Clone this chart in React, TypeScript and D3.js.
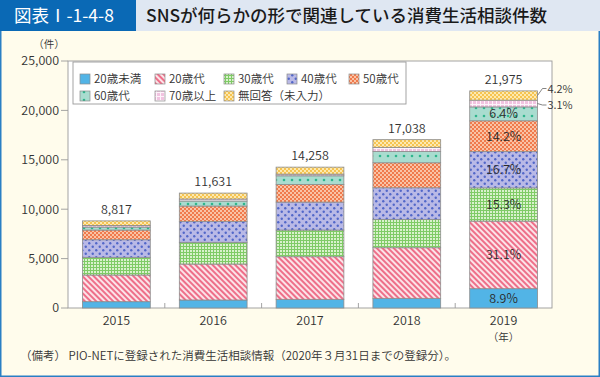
import React from "react";
import * as d3 from "d3";

const years = ["2015", "2016", "2017", "2018", "2019"];
const totals = [8817, 11631, 14258, 17038, 21975];
const seriesNames = ["20歳未満", "20歳代", "30歳代", "40歳代", "50歳代", "60歳代", "70歳以上", "無回答（未入力）"];
const under20 = [640, 810, 880, 980, 1956];
const age20s = [2700, 3640, 4310, 5120, 6840];
const age30s = [1790, 2200, 2700, 2870, 3362];
const age40s = [1780, 2120, 2830, 3200, 3670];
const age50s = [980, 1550, 1790, 2530, 3120];
const age60s = [300, 510, 870, 1150, 1406];
const age70plus = [170, 200, 170, 410, 681];
const noAnswer = [457, 601, 708, 778, 940];
const pct2019 = ["8.9%", "31.1%", "15.3%", "16.7%", "14.2%", "6.4%", "3.1%", "4.2%"];
const yTicks = [0, 5000, 10000, 15000, 20000, 25000];

const seriesValues = [under20, age20s, age30s, age40s, age50s, age60s, age70plus, noAnswer];
const fills = ["#52b4e6", "url(#pPink)", "url(#pGreen)", "url(#pPurple)", "url(#pOrange)", "url(#pTeal)", "url(#pLpink)", "url(#pYellow)"];

const FONT = "'Noto Sans CJK JP', 'Noto Sans', sans-serif";

export default function App() {
  const W = 600, H = 377;
  const left = 68, right = 552, top = 61, bottom = 308;
  const x = d3.scaleBand<string>().domain(years).range([left, right]).paddingInner(0.3).paddingOuter(0.15);
  const y = d3.scaleLinear().domain([0, 25000]).range([bottom, top]);

  const rows = years.map((yr, i) => {
    const o: any = { year: yr };
    seriesNames.forEach((s, k) => (o[s] = seriesValues[k][i]));
    return o;
  });
  const stack = d3.stack<any>().keys(seriesNames)(rows);
  const fmt = d3.format(",");

  const legendCols = [85, 160, 229, 292, 354];
  const legendRows = [79, 96];

  const last = years.length - 1;
  const bx = x(years[last])! + x.bandwidth();
  const FW = 350;

  return (
    <svg width={W} height={H} style={{ position: "absolute", left: 0, top: 0, fontFamily: FONT }}>
      <defs>
        <pattern id="pPink" width="4" height="4" patternUnits="userSpaceOnUse" patternTransform="rotate(45)">
          <rect width="4" height="4" fill="#fbe3e8" />
          <rect width="4" height="2" fill="#ee6f89" />
        </pattern>
        <pattern id="pGreen" width="3" height="3" patternUnits="userSpaceOnUse">
          <rect width="3" height="3" fill="#d9f1cc" />
          <rect width="3" height="1" fill="#7fcb66" />
          <rect width="1" height="3" fill="#7fcb66" />
        </pattern>
        <pattern id="pPurple" width="7" height="7" patternUnits="userSpaceOnUse">
          <rect width="7" height="7" fill="#b9b9e6" />
          <circle cx="1.75" cy="1.75" r="1.2" fill="#5267c9" />
          <circle cx="5.25" cy="5.25" r="1.2" fill="#5267c9" />
        </pattern>
        <pattern id="pOrange" width="4" height="4" patternUnits="userSpaceOnUse">
          <rect width="4" height="4" fill="#f9c3a6" />
          <rect width="2" height="2" fill="#f07a4c" />
          <rect x="2" y="2" width="2" height="2" fill="#f07a4c" />
        </pattern>
        <pattern id="pTeal" width="8" height="8" patternUnits="userSpaceOnUse">
          <rect width="8" height="8" fill="#a9dccf" />
          <circle cx="4" cy="4" r="1.3" fill="#2fb58d" />
        </pattern>
        <pattern id="pLpink" width="4" height="4" patternUnits="userSpaceOnUse">
          <rect width="4" height="4" fill="#f1c3e0" />
          <rect width="4" height="1" fill="#fdf3fa" />
          <rect width="1" height="4" fill="#fdf3fa" />
        </pattern>
        <pattern id="pYellow" width="4" height="4" patternUnits="userSpaceOnUse">
          <rect width="4" height="4" fill="#fde9b0" />
          <rect width="2" height="2" fill="#f6c451" />
          <rect x="2" y="2" width="2" height="2" fill="#f6c451" />
        </pattern>
      </defs>

      {/* background */}
      <rect x={0} y={0} width={W} height={H} fill="#fffcec" />
      <rect x={0.75} y={30} width={W - 1.5} height={H - 30.75} fill="#fffcec" stroke="#2a7fc4" strokeWidth={1.5} />
      <rect x={0} y={0} width={W} height={31} fill="#dfe7f2" />
      <rect x={0} y={0} width={136} height={31} fill="#0a69b5" />
      <text x={14} y={22} fontSize={17.5} fill="#ffffff">図表Ⅰ-1-4-8</text>
      <text x={146} y={22} fontSize={17.5} fill="#1a1a1a" fontWeight={500}>SNSが何らかの形で関連している消費生活相談件数</text>

      {/* plot frame */}
      <rect x={left} y={top} width={right - left} height={bottom - top} fill="#ffffff" stroke="#9a9a9a" strokeWidth={0.9} />

      {/* y axis */}
      {yTicks.map((t) => (
        <g key={t}>
          <line x1={left - 7} x2={left} y1={y(t)} y2={y(t)} stroke="#9a9a9a" strokeWidth={0.9} />
          <text x={left - 9} y={y(t) + 4.3} fontSize={12.5} fontWeight={FW} textAnchor="end" fill="#333">{fmt(t)}</text>
        </g>
      ))}
      <text x={49} y={48} fontSize={10.5} fontWeight={FW} textAnchor="middle" fill="#333">（件）</text>

      {/* x ticks between categories */}
      {years.slice(1).map((yr) => {
        const xx = x(yr)! - (x.step() - x.bandwidth()) / 2;
        return <line key={yr} x1={xx} x2={xx} y1={bottom} y2={bottom - 5} stroke="#9a9a9a" strokeWidth={0.9} />;
      })}

      {/* bars */}
      {stack.map((layer, k) => (
        <g key={k}>
          {layer.map((d, i) => (
            <rect
              key={i}
              x={x(years[i])!}
              y={y(d[1])}
              width={x.bandwidth()}
              height={y(d[0]) - y(d[1])}
              fill={fills[k]}
              stroke="#8c8c8c"
              strokeWidth={0.8}
            />
          ))}
        </g>
      ))}

      {/* totals */}
      {years.map((yr, i) => (
        <text key={yr} x={x(yr)! + x.bandwidth() / 2} y={y(totals[i]) - 7} fontSize={12.5} fontWeight={FW} textAnchor="middle" fill="#333">
          {fmt(totals[i])}
        </text>
      ))}

      {/* 2019 percentage labels */}
      {stack.slice(0, 6).map((layer, k) => {
        const d = layer[last];
        return (
          <text key={k} x={x(years[last])! + x.bandwidth() / 2} y={(y(d[0]) + y(d[1])) / 2 + 4.3} fontSize={12.5} fontWeight={FW} textAnchor="middle" fill="#2a2a2a">
            {pct2019[k]}
          </text>
        );
      })}
      {[7, 6].map((k, j) => {
        const d = stack[k][last];
        const cy = (y(d[0]) + y(d[1])) / 2;
        const ty = j === 0 ? 88.5 : 105;
        return (
          <g key={k}>
            <polyline points={`${bx},${cy} ${bx + 5},${ty} ${bx + 9},${ty}`} fill="none" stroke="#666" strokeWidth={0.8} />
            <text x={bx + 10} y={ty + 4} fontSize={11} fontWeight={FW} fill="#333">{pct2019[k]}</text>
          </g>
        );
      })}

      {/* x labels */}
      {years.map((yr) => (
        <text key={yr} x={x(yr)! + x.bandwidth() / 2} y={325} fontSize={12.5} fontWeight={FW} textAnchor="middle" fill="#333">{yr}</text>
      ))}
      <text x={x(years[last])! + x.bandwidth() / 2} y={341} fontSize={10.5} fontWeight={FW} textAnchor="middle" fill="#333">（年）</text>

      {/* legend */}
      <rect x={73} y={62} width={333} height={42} fill="#ffffff" stroke="#9a9a9a" strokeWidth={0.9} />
      {seriesNames.map((s, k) => {
        const col = k < 5 ? k : k - 5;
        const row = k < 5 ? 0 : 1;
        const lx = legendCols[col];
        const ly = legendRows[row];
        return (
          <g key={s}>
            <rect x={lx - 5} y={ly - 5} width={10} height={10} fill={fills[k]} stroke="#8c8c8c" strokeWidth={0.7} />
            <text x={lx + 9} y={ly + 4.2} fontSize={11.5} fontWeight={FW} fill="#333">{s}</text>
          </g>
        );
      })}

      {/* note */}
      <text x={20} y={360} fontSize={11.5} fontWeight={FW} fill="#333">（備考）  PIO-NETに登録された消費生活相談情報（2020年３月31日までの登録分）。</text>
    </svg>
  );
}
